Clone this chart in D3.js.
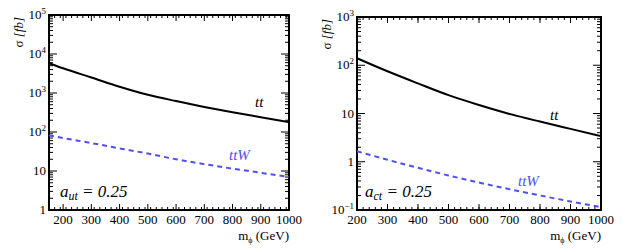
<!DOCTYPE html>
<html><head><meta charset="utf-8">
<script src="https://cdn.jsdelivr.net/npm/d3@7/dist/d3.min.js"></script>
<style>body{margin:0;background:#fff}svg{display:block}</style>
</head><body><svg id="c" width="622" height="249" font-family="'Liberation Serif', Tinos, Times, 'DejaVu Serif', serif"></svg>
<script>
// Left panel (a_ut = 0.25)
const massL = [150, 200, 300, 400, 500, 600, 700, 800, 900, 1000];
const ttL   = [5800, 4300, 2500, 1450, 900, 620, 440, 320, 240, 180];
const ttWL  = [82, 70, 52, 38, 28, 20, 15, 11.5, 9, 7];
// Right panel (a_ct = 0.25)
const massR = [200, 300, 400, 500, 600, 700, 800, 900, 1000];
const ttR   = [140, 75, 42, 24, 15, 9.8, 6.8, 4.8, 3.4];
const ttWR  = [1.65, 1.1, 0.75, 0.52, 0.37, 0.27, 0.2, 0.15, 0.115];
const xTicks = [200, 300, 400, 500, 600, 700, 800, 900, 1000];

const svg = d3.select("#c");

function panel(o) {
  const x = d3.scaleLinear().domain(o.xdom).range([o.x0, o.x1]);
  const y = d3.scaleLog().domain(o.ydom).range([o.y1, o.y0]);
  const g = svg.append("g");
  const xMinor = d3.range(o.xdom[0], o.xdom[1] + 1, 20);
  const xMajor = xTicks.filter(v => v >= o.xdom[0]);
  const decades = [];
  for (let e = Math.round(Math.log10(o.ydom[0])); e <= Math.round(Math.log10(o.ydom[1])); e++) decades.push(e);
  const yMinor = [];
  decades.slice(0, -1).forEach(e => { for (let k = 2; k <= 9; k++) yMinor.push(k * Math.pow(10, e)); });
  [[o.y1, -1], [o.y0, 1]].forEach(([yy, s]) => {
    g.selectAll(null).data(xMinor).enter().append("line")
      .attr("x1", d => x(d)).attr("x2", d => x(d)).attr("y1", yy).attr("y2", yy + s * 3)
      .attr("stroke", "#000").attr("stroke-width", 1);
    g.selectAll(null).data(xMajor).enter().append("line")
      .attr("x1", d => x(d)).attr("x2", d => x(d)).attr("y1", yy).attr("y2", yy + s * 6)
      .attr("stroke", "#000").attr("stroke-width", 1);
  });
  [[o.x0, 1], [o.x1, -1]].forEach(([xx, s]) => {
    g.selectAll(null).data(yMinor).enter().append("line")
      .attr("x1", xx).attr("x2", xx + s * 4).attr("y1", d => y(d)).attr("y2", d => y(d))
      .attr("stroke", "#000").attr("stroke-width", 1);
    g.selectAll(null).data(decades.map(e => Math.pow(10, e))).enter().append("line")
      .attr("x1", xx).attr("x2", xx + s * 8).attr("y1", d => y(d)).attr("y2", d => y(d))
      .attr("stroke", "#000").attr("stroke-width", 1);
  });
  g.append("rect").attr("x", o.x0).attr("y", o.y0).attr("width", o.x1 - o.x0).attr("height", o.y1 - o.y0)
    .attr("fill", "none").attr("stroke", "#000").attr("stroke-width", 2);
  g.selectAll(null).data(xMajor).enter().append("text")
    .attr("x", d => x(d)).attr("y", o.y1 + 14).attr("text-anchor", "middle")
    .attr("font-size", 13).text(d => d);
  decades.forEach(e => {
    const v = Math.pow(10, e);
    const t = g.append("text").attr("x", o.x0 - 3).attr("y", y(v) + 4).attr("text-anchor", "end")
      .attr("font-size", 13);
    if (e === 0) t.text("1");
    else if (e === 1) t.text("10");
    else { t.text("10"); t.append("tspan").attr("dy", -5).attr("font-size", 9).text(e === -1 ? "\u22121" : e); }
  });
  const line = d3.line().x(d => x(d[0])).y(d => y(d[1])).curve(d3.curveMonotoneX);
  g.append("path").attr("d", line(o.mass.map((m, i) => [m, o.tt[i]])))
    .attr("fill", "none").attr("stroke", "#000").attr("stroke-width", 2);
  g.append("path").attr("d", line(o.mass.map((m, i) => [m, o.ttW[i]])))
    .attr("fill", "none").attr("stroke", "#5050ee").attr("stroke-width", 2).attr("stroke-dasharray", "5,4");
  g.append("text").attr("x", o.ttPos[0]).attr("y", o.ttPos[1])
    .attr("font-style", "italic").attr("font-size", 15).text("tt");
  g.append("text").attr("x", o.ttWPos[0]).attr("y", o.ttWPos[1])
    .attr("font-style", "italic").attr("font-size", 15).attr("fill", "#5050ee").text("ttW");
  const a = g.append("text").attr("x", o.aPos[0]).attr("y", o.aPos[1])
    .attr("font-style", "italic").attr("font-size", 17);
  a.append("tspan").text("a");
  a.append("tspan").attr("dy", 3).attr("font-size", 12).text(o.sub);
  a.append("tspan").attr("dy", -3).text(" = 0.25");
  const yt = g.append("text").attr("transform", `translate(${o.ytX},${o.y0 + 2}) rotate(-90)`)
    .attr("text-anchor", "end").attr("font-size", 13);
  yt.append("tspan").text("\u03C3 ");
  yt.append("tspan").attr("font-style", "italic").text("[fb]");
  const xt = g.append("text").attr("x", o.x1).attr("y", o.y1 + 30).attr("text-anchor", "end")
    .attr("font-size", 13);
  xt.append("tspan").text("m");
  xt.append("tspan").attr("dy", 3).attr("font-size", 8).text("\u03D5");
  xt.append("tspan").attr("dy", -3).text(" (GeV)");
}

panel({x0: 49, x1: 289, y0: 15, y1: 210, xdom: [150, 1000], ydom: [1, 1e5],
  mass: massL, tt: ttL, ttW: ttWL, ttPos: [255, 107], ttWPos: [229, 160], aPos: [60, 197],
  sub: "ut", ytX: 23});
panel({x0: 357, x1: 601, y0: 17, y1: 210, xdom: [200, 1000], ydom: [0.1, 1000],
  mass: massR, tt: ttR, ttW: ttWR, ttPos: [550, 120], ttWPos: [518, 186], aPos: [365, 197],
  sub: "ct", ytX: 331});
</script></body></html>
